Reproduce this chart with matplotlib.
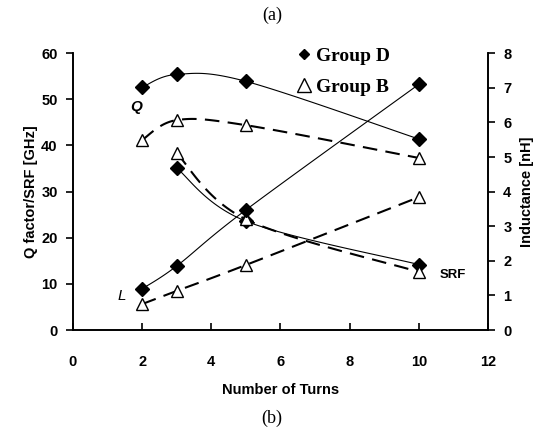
import numpy as np
import matplotlib.pyplot as plt
from matplotlib.lines import Line2D

# --- data ---
turns_q = [2, 3, 5, 10]
q_group_d = [52.6, 55.4, 53.9, 41.4]
q_group_b = [41.2, 45.5, 44.4, 37.3]

turns_srf = [3, 5, 10]
srf_group_d = [35.1, 23.6, 14.2]
srf_group_b = [38.3, 24.0, 12.6]

turns_l = [2, 3, 5, 10]
l_group_d = [1.19, 1.85, 3.47, 7.10]
l_group_b = [0.75, 1.13, 1.88, 3.84]


def smooth(xs, ys, n=30):
    # Excel-like smoothed line: cubic Bezier segments with Catmull-Rom control points
    p = np.column_stack([xs, ys]).astype(float)
    out = [p[0]]
    for i in range(len(p) - 1):
        p0 = p[i - 1] if i > 0 else p[i]
        p1, p2 = p[i], p[i + 1]
        p3 = p[i + 2] if i + 2 < len(p) else p[i + 1]
        c1 = p1 + (p2 - p0) / 6
        c2 = p2 - (p3 - p1) / 6
        t = np.linspace(0, 1, n)[1:, None]
        seg = ((1 - t) ** 3) * p1 + 3 * ((1 - t) ** 2) * t * c1 + 3 * (1 - t) * t ** 2 * c2 + t ** 3 * p2
        out.extend(seg)
    out = np.array(out)
    return out[:, 0], out[:, 1]


fig = plt.figure(figsize=(5.44, 4.36), dpi=100)
ax = fig.add_axes([0.134, 0.243, 0.763, 0.635])
ax2 = ax.twinx()

solid = dict(color='black', lw=0.8)
dashed = dict(color='black', lw=1.5, dashes=(7, 4))
dmk = dict(marker='D', ms=7, mfc='black', mec='black', ls='none')
tmk = dict(marker='^', ms=9, mfc='white', mec='black', mew=1.0, ls='none')

for xs, ys in [(turns_q, q_group_d), (turns_srf, srf_group_d)]:
    ax.plot(*smooth(xs, ys), **solid)
    ax.plot(xs, ys, **dmk, zorder=4)
for xs, ys in [(turns_q, q_group_b), (turns_srf, srf_group_b)]:
    ax.plot(*smooth(xs, ys), **dashed)
    ax.plot(xs, ys, **tmk, zorder=4)

ax2.plot(*smooth(turns_l, l_group_d), **solid)
ax2.plot(turns_l, l_group_d, **dmk, zorder=4)
ax2.plot(*smooth(turns_l, l_group_b), **dashed)
ax2.plot(turns_l, l_group_b, **tmk, zorder=4)

ax.set_xlim(0, 12)
ax.set_ylim(0, 60)
ax2.set_ylim(0, 8)
ax.set_xticks(range(0, 13, 2))
ax.set_yticks(range(0, 61, 10))
ax2.set_yticks(range(0, 9))

for a in (ax, ax2):
    a.spines['top'].set_visible(False)
    for s in a.spines.values():
        s.set_linewidth(1.2)
ax.tick_params(axis='x', direction='in', length=5, width=1.2, pad=18)
ax.tick_params(axis='y', direction='out', length=5, width=1.2, pad=6)
ax2.tick_params(axis='y', direction='out', length=5, width=1.2, pad=6)

tick_font = dict(family='Liberation Sans', weight='bold', size=10.5)
for lab in ax.get_xticklabels() + ax.get_yticklabels() + ax2.get_yticklabels():
    lab.set_fontfamily(tick_font['family'])
    lab.set_fontweight(tick_font['weight'])
    lab.set_fontsize(tick_font['size'])

ax.set_xlabel('Number of Turns', fontdict=tick_font, labelpad=10)
ax.set_ylabel('Q factor/SRF [GHz]', fontdict=tick_font, labelpad=2)
ax2.set_ylabel('Inductance [nH]', fontdict=tick_font, labelpad=6)

ax.text(1.65, 47.5, 'Q', family='Liberation Sans', weight='bold', style='italic', size=11)
ax.text(1.3, 6.5, 'L', family='Liberation Sans', style='italic', size=11)
ax.text(10.6, 11.2, 'SRF', family='Liberation Sans', weight='bold', size=9.5)

handles = [Line2D([], [], marker='D', ms=5, mfc='black', mec='black', ls='none'),
           Line2D([], [], marker='^', ms=10, mfc='white', mec='black', ls='none')]
ax.legend(handles, ['Group D', 'Group B'], loc='upper left', bbox_to_anchor=(0.49, 1.085),
          frameon=False, handletextpad=0.15, labelspacing=0.7, handlelength=1.0,
          prop=dict(family='Liberation Serif', weight='bold', size=14))

fig.text(0.5, 0.965, '(a)', ha='center', va='center', family='Liberation Serif', size=13)
fig.text(0.5, 0.04, '(b)', ha='center', va='center', family='Liberation Serif', size=13)

fig.savefig('out.png', dpi=100)
